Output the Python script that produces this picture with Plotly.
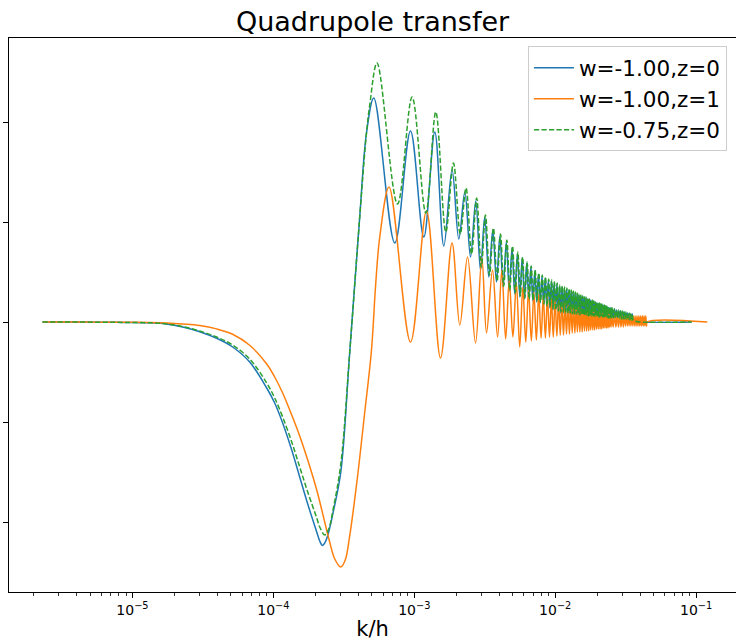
import numpy as np
import plotly.graph_objects as go

# k/h values below are in units of 1e-3; transfer values in axis units.

# ---------- w=-1.00, z=0 ----------
blue_smooth = [(0.0023, 0.0), (0.0036, 0.0), (0.00585, -0.002), (0.0088, -0.004),
               (0.01346, -0.008), (0.01749, -0.02), (0.02272, -0.05), (0.030, -0.097),
               (0.0396, -0.163), (0.0514, -0.25), (0.0679, -0.40), (0.0897, -0.66),
               (0.1022, -0.81), (0.1164, -1.01), (0.1350, -1.28), (0.1538, -1.55),
               (0.1753, -1.82), (0.2031, -2.10), (0.2133, -2.19), (0.223, -2.235),
               (0.2336, -2.20), (0.247, -2.10), (0.265, -1.91), (0.301, -1.50),
               (0.348, -0.31), (0.410, 1.05), (0.458, 1.89)]
blue_peaks = [(0.516, 2.24), (0.94, 1.91), (1.398, 1.90), (1.854, 1.52), (2.284, 1.30),
              (2.73, 1.21), (3.16, 1.05), (3.605, 0.92), (4.05, 0.86), (4.50, 0.80),
              (4.94, 0.74), (5.39, 0.68), (5.83, 0.64), (6.28, 0.59), (6.72, 0.55),
              (7.17, 0.51), (7.61, 0.48), (8.06, 0.46), (8.50, 0.44), (8.95, 0.42),
              (9.40, 0.41), (9.84, 0.40), (10.29, 0.38), (10.73, 0.36), (11.18, 0.35),
              (11.62, 0.34), (12.07, 0.33), (12.51, 0.32), (12.96, 0.31), (13.40, 0.30),
              (13.85, 0.29), (14.29, 0.28), (14.74, 0.27), (15.18, 0.26), (15.63, 0.26),
              (16.07, 0.25), (16.52, 0.24), (16.96, 0.23), (17.41, 0.23), (17.85, 0.22),
              (18.30, 0.21), (18.74, 0.21), (19.19, 0.20), (19.63, 0.19), (20.08, 0.19),
              (20.52, 0.18), (20.97, 0.18), (21.41, 0.17), (21.86, 0.17), (22.30, 0.16),
              (22.75, 0.16), (23.19, 0.15), (23.64, 0.15), (24.08, 0.14), (24.53, 0.14),
              (24.97, 0.14), (25.42, 0.13), (26.31, 0.13), (27.20, 0.12), (28.09, 0.11),
              (28.98, 0.11), (29.87, 0.10), (30.76, 0.10), (31.65, 0.09), (32.54, 0.09),
              (33.43, 0.08), (34.32, 0.08), (35.21, 0.08)]
blue_troughs = [(0.727, 0.79), (1.168, 0.85), (1.62, 0.76), (2.07, 0.83), (2.506, 0.65),
                (2.95, 0.52), (3.38, 0.45), (3.83, 0.40), (4.27, 0.35), (4.72, 0.31),
                (5.16, 0.28), (5.61, 0.25), (6.05, 0.23), (6.50, 0.22), (6.94, 0.21),
                (7.39, 0.20), (7.83, 0.19), (8.28, 0.17), (8.72, 0.15), (9.17, 0.14),
                (9.62, 0.12), (10.06, 0.11), (10.51, 0.10), (10.95, 0.09), (11.40, 0.09),
                (11.84, 0.09), (12.29, 0.08), (12.73, 0.08), (13.18, 0.08), (13.62, 0.08),
                (14.07, 0.08), (14.51, 0.07), (14.96, 0.07), (15.40, 0.07), (15.85, 0.07),
                (16.29, 0.07), (16.74, 0.06), (17.18, 0.06), (17.63, 0.06), (18.07, 0.06),
                (18.52, 0.06), (18.96, 0.06), (19.41, 0.05), (19.85, 0.05), (20.30, 0.05),
                (20.74, 0.05), (21.19, 0.05), (21.63, 0.05), (22.08, 0.05), (22.52, 0.05),
                (22.97, 0.05), (23.41, 0.05), (23.86, 0.04), (24.30, 0.04), (24.75, 0.04),
                (25.19, 0.04), (25.86, 0.04), (26.75, 0.04), (27.64, 0.04), (28.53, 0.04),
                (29.42, 0.03), (30.31, 0.03), (31.20, 0.03), (32.09, 0.03), (32.98, 0.03),
                (33.87, 0.02), (34.76, 0.02), (35.65, 0.02)]
blue_tail = [(36.5, 0.01), (40.0, 0.0), (93.0, 0.0)]

# ---------- w=-1.00, z=1 ----------
orange_smooth = [(0.0023, 0.0), (0.0036, 0.0), (0.00585, -0.002), (0.0088, -0.003),
                 (0.01346, -0.005), (0.01749, -0.01), (0.02272, -0.02), (0.030, -0.035),
                 (0.0396, -0.069), (0.0514, -0.123), (0.0679, -0.233), (0.0897, -0.42),
                 (0.1022, -0.55), (0.1164, -0.71), (0.1350, -0.93), (0.1538, -1.14),
                 (0.1753, -1.38), (0.2031, -1.68), (0.251, -2.20), (0.2727, -2.37),
                 (0.301, -2.45), (0.3236, -2.38), (0.348, -2.14), (0.393, -1.58),
                 (0.442, -0.94), (0.497, -0.28), (0.533, 0.39), (0.569, 0.85)]
orange_peaks = [(0.662, 1.35), (1.221, 1.11), (1.854, 0.79), (2.387, 0.65), (3.016, 0.64),
                (3.59, 0.52), (4.18, 0.52), (4.72, 0.42), (5.30, 0.39), (5.89, 0.35),
                (6.47, 0.32), (7.06, 0.30), (7.64, 0.28), (8.23, 0.26), (8.81, 0.25),
                (9.40, 0.23), (9.98, 0.22), (10.57, 0.21), (11.15, 0.20), (11.74, 0.19),
                (12.32, 0.18), (12.91, 0.17), (13.49, 0.16), (14.08, 0.15), (14.66, 0.15),
                (15.25, 0.14), (15.83, 0.13), (16.42, 0.13), (17.00, 0.12), (17.59, 0.12),
                (18.17, 0.11), (18.76, 0.11), (19.34, 0.10), (19.93, 0.10), (20.51, 0.10),
                (21.10, 0.09), (21.68, 0.09), (22.27, 0.09), (22.85, 0.08), (23.44, 0.08),
                (24.02, 0.08), (24.61, 0.08), (25.19, 0.07), (26.36, 0.07), (27.53, 0.07),
                (28.70, 0.07), (29.87, 0.07), (31.04, 0.06), (32.21, 0.06), (33.38, 0.06),
                (34.55, 0.06), (35.72, 0.06), (36.89, 0.06), (38.06, 0.06), (39.23, 0.06),
                (40.40, 0.06), (41.57, 0.06), (42.74, 0.06), (43.91, 0.06)]
orange_troughs = [(0.940, -0.20), (1.535, -0.36), (2.104, -0.03), (2.72, -0.21), (3.255, -0.11),
                  (3.90, -0.15), (4.45, -0.17), (5.01, -0.15), (5.60, -0.25), (6.18, -0.20),
                  (6.77, -0.19), (7.35, -0.18), (7.94, -0.16), (8.52, -0.16), (9.11, -0.15),
                  (9.69, -0.15), (10.28, -0.14), (10.86, -0.13), (11.45, -0.13), (12.03, -0.12),
                  (12.62, -0.12), (13.20, -0.11), (13.79, -0.11), (14.37, -0.10), (14.96, -0.10),
                  (15.54, -0.10), (16.13, -0.09), (16.71, -0.09), (17.30, -0.09), (17.88, -0.08),
                  (18.47, -0.08), (19.05, -0.08), (19.64, -0.07), (20.22, -0.07), (20.81, -0.07),
                  (21.39, -0.07), (21.98, -0.06), (22.56, -0.06), (23.15, -0.06), (23.73, -0.06),
                  (24.32, -0.05), (24.90, -0.05), (25.78, -0.05), (26.95, -0.05), (28.12, -0.05),
                  (29.29, -0.05), (30.46, -0.05), (31.63, -0.04), (32.80, -0.04), (33.97, -0.04),
                  (35.14, -0.04), (36.31, -0.04), (37.48, -0.04), (38.65, -0.04), (39.82, -0.04),
                  (40.99, -0.04), (42.16, -0.04), (43.33, -0.04), (44.50, -0.04)]
orange_tail = [(45.0, 0.0), (120.0, 0.0)]

# ---------- w=-0.75, z=0 ----------
green_smooth = [(0.0023, 0.0), (0.0036, 0.0), (0.00585, -0.002), (0.0088, -0.004),
                (0.01346, -0.008), (0.01749, -0.02), (0.02272, -0.045), (0.030, -0.09),
                (0.0396, -0.15), (0.0514, -0.23), (0.0679, -0.37), (0.0897, -0.61),
                (0.1022, -0.76), (0.1164, -0.95), (0.1350, -1.20), (0.1538, -1.45),
                (0.1753, -1.70), (0.2031, -1.96), (0.2133, -2.05), (0.2315, -2.13),
                (0.247, -2.07), (0.265, -1.88), (0.301, -1.42), (0.348, -0.31),
                (0.410, 1.05), (0.458, 1.89), (0.483, 2.17)]
green_peaks = [(0.544, 2.59), (0.965, 2.25), (1.421, 2.10), (1.897, 1.59), (2.33, 1.34),
               (2.77, 1.24), (3.20, 1.07), (3.645, 0.94), (4.09, 0.88), (4.54, 0.82),
               (4.98, 0.76), (5.43, 0.70), (5.87, 0.65), (6.32, 0.60), (6.76, 0.56),
               (7.21, 0.52), (7.65, 0.49), (8.10, 0.47), (8.54, 0.45), (8.99, 0.43),
               (9.44, 0.42), (9.88, 0.40), (10.33, 0.39), (10.77, 0.37), (11.22, 0.36),
               (11.66, 0.35), (12.11, 0.34), (12.55, 0.33), (13.00, 0.32), (13.44, 0.31),
               (13.89, 0.30), (14.33, 0.29), (14.78, 0.28), (15.22, 0.27), (15.67, 0.26),
               (16.11, 0.25), (16.56, 0.25), (17.00, 0.24), (17.45, 0.23), (17.89, 0.22),
               (18.34, 0.22), (18.78, 0.21), (19.23, 0.20), (19.67, 0.20), (20.12, 0.19),
               (20.56, 0.19), (21.01, 0.18), (21.45, 0.18), (21.90, 0.17), (22.34, 0.17),
               (22.79, 0.16), (23.23, 0.16), (23.68, 0.15), (24.12, 0.15), (24.57, 0.14),
               (25.01, 0.14), (25.46, 0.14), (26.35, 0.13), (27.24, 0.12), (28.13, 0.12),
               (29.02, 0.11), (29.91, 0.11), (30.80, 0.10), (31.69, 0.10), (32.58, 0.09),
               (33.47, 0.09), (34.36, 0.08), (35.25, 0.08)]
green_troughs = [(0.760, 1.18), (1.207, 1.09), (1.674, 0.90), (2.12, 0.88), (2.55, 0.68),
                 (2.99, 0.55), (3.42, 0.47), (3.87, 0.41), (4.31, 0.36), (4.76, 0.32),
                 (5.20, 0.29), (5.65, 0.26), (6.09, 0.24), (6.54, 0.23), (6.98, 0.22),
                 (7.43, 0.21), (7.87, 0.20), (8.32, 0.18), (8.76, 0.16), (9.21, 0.15),
                 (9.66, 0.13), (10.10, 0.12), (10.55, 0.11), (10.99, 0.10), (11.44, 0.10),
                 (11.88, 0.09), (12.33, 0.09), (12.77, 0.09), (13.22, 0.08), (13.66, 0.08),
                 (14.11, 0.08), (14.55, 0.08), (15.00, 0.07), (15.44, 0.07), (15.89, 0.07),
                 (16.33, 0.07), (16.78, 0.07), (17.22, 0.06), (17.67, 0.06), (18.11, 0.06),
                 (18.56, 0.06), (19.00, 0.06), (19.45, 0.06), (19.89, 0.05), (20.34, 0.05),
                 (20.78, 0.05), (21.23, 0.05), (21.67, 0.05), (22.12, 0.05), (22.56, 0.05),
                 (23.01, 0.05), (23.45, 0.05), (23.90, 0.04), (24.34, 0.04), (24.79, 0.04),
                 (25.23, 0.04), (25.90, 0.04), (26.79, 0.04), (27.68, 0.04), (28.57, 0.04),
                 (29.46, 0.03), (30.35, 0.03), (31.24, 0.03), (32.13, 0.03), (33.02, 0.03),
                 (33.91, 0.02), (34.80, 0.02), (35.69, 0.02)]
green_tail = [(36.5, 0.01), (40.0, 0.0), (93.0, 0.0)]

series_names = ["w=-1.00,z=0", "w=-1.00,z=1", "w=-0.75,z=0"]
series_colors = ["#1f77b4", "#ff7f0e", "#2ca02c"]

x_ticks = [1e-5, 1e-4, 1e-3, 1e-2, 1e-1]
x_tick_text = ["10<sup>\u22125</sup>", "10<sup>\u22124</sup>", "10<sup>\u22123</sup>",
               "10<sup>\u22122</sup>", "10<sup>\u22121</sup>"]
y_ticks = [-2, -1, 0, 1, 2]


def assemble(*parts):
    pts = sorted(p for part in parts for p in part)
    k = np.array([p[0] for p in pts]) * 1e-3
    v = np.array([p[1] for p in pts])
    return k, v


curves = [
    assemble(blue_smooth, blue_peaks, blue_troughs, blue_tail),
    assemble(orange_smooth, orange_peaks, orange_troughs, orange_tail),
    assemble(green_smooth, green_peaks, green_troughs, green_tail),
]
dashes = ["solid", "solid", "5.2px,2.3px"]

fig = go.Figure()
for (k, v), name, color, dash in zip(curves, series_names, series_colors, dashes):
    fig.add_trace(go.Scatter(
        x=k, y=v, mode="lines", name=name, legendgroup=name,
        line=dict(color=color, width=1.5, dash=dash, shape="spline", smoothing=1.0),
    ))

minor_vals = [m * 10.0 ** e for e in range(-6, 0) for m in range(2, 10)]

fig.update_layout(
    template="none",
    width=736, height=641,
    margin=dict(l=9, r=0, t=38, b=49),
    paper_bgcolor="white", plot_bgcolor="white",
    font=dict(family="DejaVu Sans", color="black"),
    title=dict(text="Quadrupole transfer", x=0.5, xref="paper", xanchor="center",
               y=1 - 22 / 641, yref="container", yanchor="middle",
               font=dict(size=27, color="black")),
    legend=dict(x=0.9876, y=0.985, xanchor="right", yanchor="top",
                bgcolor="rgba(255,255,255,0.8)", bordercolor="#cccccc", borderwidth=1,
                font=dict(size=21.5, color="black"), itemwidth=40, tracegroupgap=0),
    showlegend=True,
    xaxis=dict(type="log", range=[-5.876, -0.717], automargin=False,
               showline=True, linecolor="black", linewidth=1.1, mirror=True,
               showgrid=False, zeroline=False,
               tickmode="array", tickvals=x_ticks, ticktext=x_tick_text,
               ticks="outside", ticklen=5, tickwidth=1.1, tickcolor="black",
               tickfont=dict(size=14, color="black"),
               minor=dict(tickmode="array", tickvals=minor_vals, ticks="outside",
                          ticklen=3, tickwidth=0.8, tickcolor="#333", showgrid=False),
               title=dict(text="k/h", font=dict(size=21, color="black"), standoff=9)),
    yaxis=dict(range=[-2.70, 2.84], automargin=False,
               showline=True, linecolor="black", linewidth=1.1, mirror=False,
               showgrid=False, zeroline=False,
               tickmode="array", tickvals=y_ticks, showticklabels=False,
               ticks="outside", ticklen=5, tickwidth=1.1, tickcolor="black"),
)

fig.write_html("out.html")
